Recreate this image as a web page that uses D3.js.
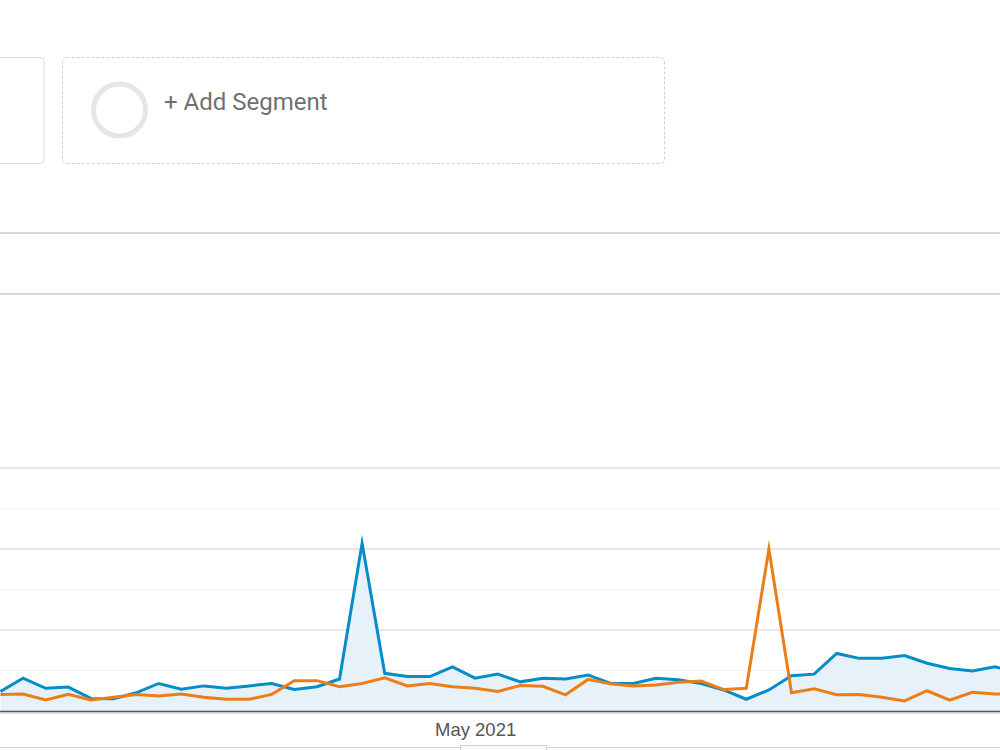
<!DOCTYPE html>
<html>
<head>
<meta charset="utf-8">
<script src="https://cdn.jsdelivr.net/npm/d3@7"></script>
<style>
  html, body { margin: 0; padding: 0; background: #fff; }
  svg { display: block; }
</style>
</head>
<body>
<svg id="chart" width="1000" height="750"></svg>
<script>
// ---- Data (daily, starting 10 Apr 2021) ----
const startDate = "2021-04-10";
const seriesBlue = [4.8, 8.1, 5.6, 5.9, 3.1, 3.0, 4.5, 6.8, 5.4, 6.2, 5.6, 6.2, 6.8, 5.3, 6.0, 7.9,
  41.4, 9.3, 8.5, 8.5, 10.9, 8.1, 9.1, 7.2, 8.1, 7.9, 8.9, 6.8, 6.8, 8.1, 7.7, 6.8, 5.2, 2.9, 5.2,
  8.7, 9.1, 14.2, 13.0, 13.0, 13.7, 11.8, 10.5, 9.9, 10.9, 9.6];
const seriesOrange = [4.1, 4.2, 2.7, 4.1, 2.7, 3.4, 4.1, 3.7, 4.2, 3.4, 2.9, 2.9, 4.1, 7.5, 7.5, 6.0,
  6.8, 8.2, 6.2, 6.8, 6.0, 5.6, 4.8, 6.3, 6.1, 4.0, 7.8, 6.7, 6.2, 6.4, 7.1, 7.4, 5.3, 5.6, 40.0,
  4.5, 5.5, 4.0, 4.1, 3.4, 2.5, 5.0, 2.7, 4.6, 4.2, 4.2];
const yTicks = [10, 20, 30, 40, 50, 60];
const xTickLabels = ["May 2021"];
const segmentLabel = "+ Add Segment";

const svg = d3.select("#chart");
const parse = d3.timeParse("%Y-%m-%d");
const d0 = parse(startDate);
const dates = seriesBlue.map((_, i) => d3.timeDay.offset(d0, i));

const x = d3.scaleTime()
  .domain([dates[0], dates[dates.length - 1]])
  .range([0.5, 0.5 + 22.6 * (dates.length - 1)]);
const y = d3.scaleLinear().domain([0, 60]).range([711, 468]);

// ---- Top UI: segment boxes ----
svg.append("rect").attr("x", -10).attr("y", 57.5).attr("width", 54).attr("height", 106)
  .attr("rx", 4).attr("fill", "#fff").attr("stroke", "#dcdcdc").attr("stroke-width", 1);
svg.append("rect").attr("x", 62.5).attr("y", 57.5).attr("width", 602).attr("height", 106)
  .attr("rx", 4).attr("fill", "#fff").attr("stroke", "#d0d0d0").attr("stroke-width", 1)
  .attr("stroke-dasharray", "3,2");
svg.append("circle").attr("cx", 119.5).attr("cy", 110).attr("r", 26)
  .attr("fill", "none").attr("stroke", "#e6e6e6").attr("stroke-width", 5);
svg.append("text").attr("x", 164).attr("y", 104)
  .attr("font-family", "Roboto, sans-serif").attr("font-size", 24)
  .attr("fill", "#707070").attr("dominant-baseline", "middle").text(segmentLabel);

// ---- Horizontal rules ----
[233, 294].forEach(yy => {
  svg.append("line").attr("x1", 0).attr("x2", 1000).attr("y1", yy).attr("y2", yy)
    .attr("stroke", "#d8d8d8").attr("stroke-width", 2);
});

// ---- Gridlines ----
const grid = svg.append("g").attr("class", "grid");
yTicks.forEach((t, i) => {
  grid.append("line").attr("x1", 0).attr("x2", 1000)
    .attr("y1", y(t)).attr("y2", y(t))
    .attr("stroke", i % 2 === 1 ? "#e8e8e8" : "#f3f3f3")
    .attr("stroke-width", i % 2 === 1 ? 2 : 1.5);
});

// ---- Area + lines ----
const area = d3.area().x((d, i) => x(dates[i])).y0(y(0)).y1(d => y(d));
const line = d3.line().x((d, i) => x(dates[i])).y(d => y(d));

svg.append("path").datum(seriesBlue).attr("d", area)
  .attr("fill", "#e6f1f9");

svg.append("path").datum(seriesBlue).attr("d", line)
  .attr("fill", "none").attr("stroke", "#058dc7").attr("stroke-width", 3)
  .attr("stroke-linejoin", "miter").attr("stroke-miterlimit", 10);
svg.append("path").datum(seriesOrange).attr("d", line)
  .attr("fill", "none").attr("stroke", "#ed7e17").attr("stroke-width", 3)
  .attr("stroke-linejoin", "miter").attr("stroke-miterlimit", 10);

// ---- Baseline / x axis ----
svg.append("line").attr("x1", 0).attr("x2", 1000).attr("y1", y(0) + 0.5).attr("y2", y(0) + 0.5)
  .attr("stroke", "#555").attr("stroke-width", 1.5);
svg.append("line").attr("x1", 0).attr("x2", 1000).attr("y1", y(0) + 2).attr("y2", y(0) + 2)
  .attr("stroke", "#bbb").attr("stroke-width", 1);

const xAxis = d3.axisBottom(x)
  .tickValues([parse("2021-05-01")])
  .tickSize(0)
  .tickFormat((d, i) => xTickLabels[i]);
const gx = svg.append("g").attr("transform", `translate(0, ${y(0)})`).call(xAxis);
gx.select(".domain").remove();
gx.selectAll("text")
  .attr("font-family", "'Liberation Sans', Arial, sans-serif")
  .attr("font-size", 18.5).attr("fill", "#555").attr("dy", 0).attr("y", 25);

// ---- Bottom tab strip ----
svg.append("line").attr("x1", 0).attr("x2", 1000).attr("y1", 747.5).attr("y2", 747.5)
  .attr("stroke", "#d6d6d6").attr("stroke-width", 1);
svg.append("rect").attr("x", 460.5).attr("y", 745.5).attr("width", 86).attr("height", 10)
  .attr("fill", "#f7f7f7").attr("stroke", "#d0d0d0").attr("stroke-width", 1);
</script>
</body>
</html>
